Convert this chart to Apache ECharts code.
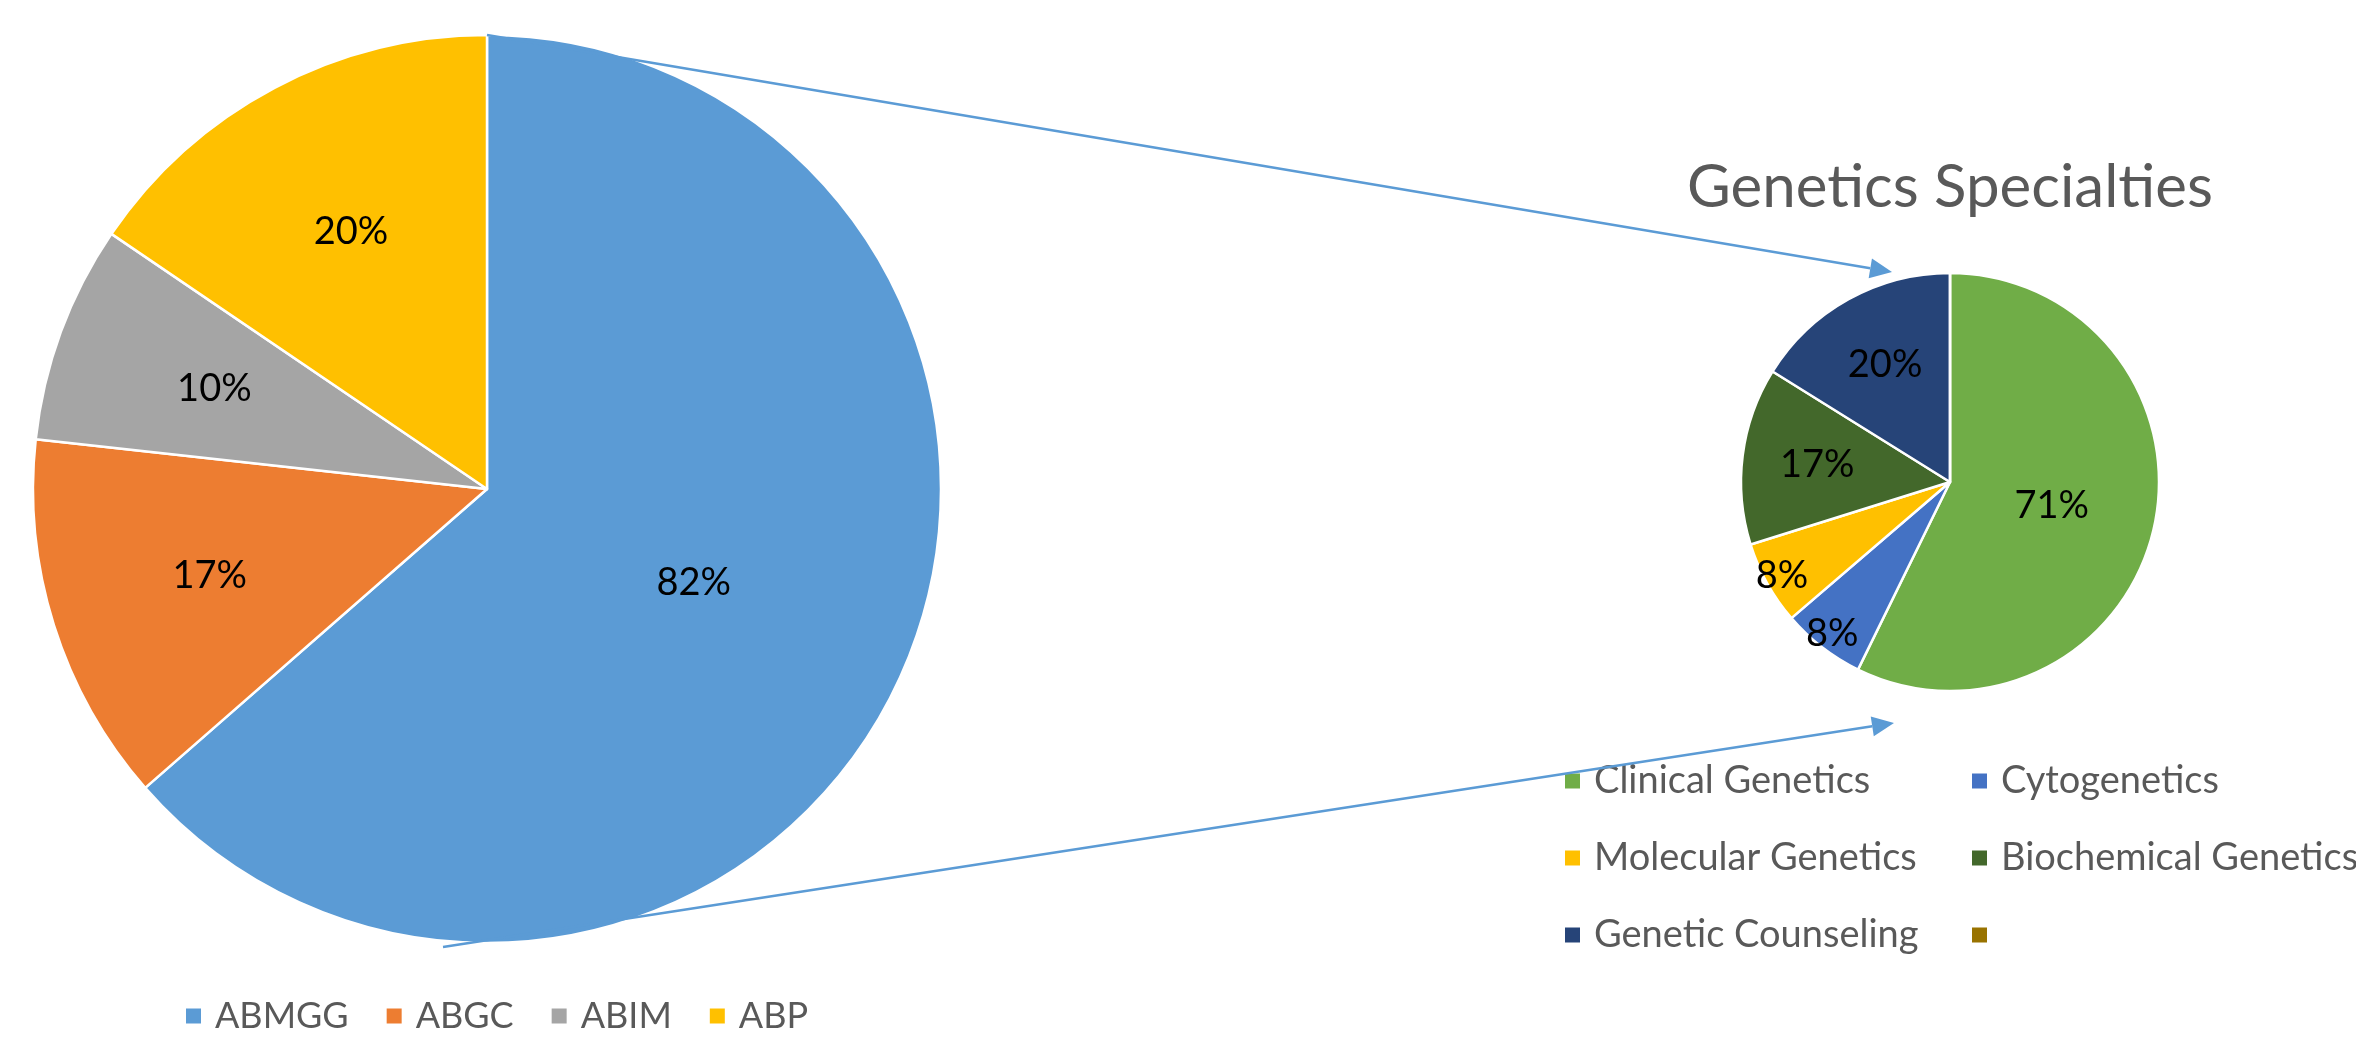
<!DOCTYPE html>
<html>
<head>
<meta charset="utf-8">
<script src="https://cdn.jsdelivr.net/npm/echarts@6/dist/echarts.min.js"></script>
<style>
  html, body { margin: 0; padding: 0; background: #ffffff; }
  #chart { width: 2356px; height: 1041px; }
</style>
</head>
<body>
<div id="chart"></div>
<script>
// Board certifications (left pie)
const boardNames = ['ABMGG', 'ABGC', 'ABIM', 'ABP'];
const boardValues = [82, 17, 10, 20];

// Genetics specialties (right pie); the last legend entry carries no label
const specialtyNames = ['Clinical Genetics', 'Cytogenetics', 'Molecular Genetics', 'Biochemical Genetics', 'Genetic Counseling', ' '];
const specialtyValues = [71, 8, 8, 17, 20, 0];

const specialtyTitle = 'Genetics Specialties';

// Palettes
const boardColors = ['#5B9BD5', '#ED7D31', '#A5A5A5', '#FFC000'];
const specialtyColors = ['#70AD47', '#4472C4', '#FFC000', '#43682B', '#264478', '#997300'];

// Geometry of the two pies (pixels)
const LEFT_PIE = { cx: 487, cy: 489, r: 454 };
const RIGHT_PIE = { cx: 1950, cy: 482, r: 209 };

const FONT = 'Lato, "Open Sans", sans-serif';
const TEXT_GREY = '#595959';
const ARROW_BLUE = '#5B9BD5';

// Label anchor for each slice: big slices near the middle, tiny slices near the rim
function labelAnchors(values, pie) {
  const total = values.reduce((a, b) => a + b, 0);
  let start = 0;
  return values.map(v => {
    const a = v / total * Math.PI * 2;
    const mid = start + a / 2;
    start += a;
    const deg = a * 180 / Math.PI;
    const frac = deg > 180 ? 0.5 : (deg < 25 ? 0.92 : 0.64);
    return [pie.cx + frac * pie.r * Math.sin(mid), pie.cy - frac * pie.r * Math.cos(mid)];
  });
}

function pieSeries(names, values, colors, pie) {
  const anchors = labelAnchors(values, pie);
  return {
    type: 'pie',
    center: [pie.cx, pie.cy],
    radius: [0, pie.r],
    startAngle: 90,
    clockwise: true,
    silent: true,
    animation: false,
    data: names.map((n, i) => ({ name: n, value: values[i], itemStyle: { color: colors[i] } })),
    itemStyle: { borderColor: '#ffffff', borderWidth: 2.5 },
    label: {
      show: true,
      position: 'inside',
      formatter: p => (p.value ? p.value + '%' : ''),
      color: '#000000',
      fontFamily: FONT,
      fontSize: 38
    },
    labelLine: { show: false },
    labelLayout: p => ({
      x: anchors[p.dataIndex][0],
      y: anchors[p.dataIndex][1],
      align: 'center',
      verticalAlign: 'middle'
    }),
    emphasis: { disabled: true }
  };
}

// Connector arrows from the large pie to the breakdown pie
const arrows = [
  { from: [LEFT_PIE.cx, LEFT_PIE.cy - LEFT_PIE.r], to: [1892, 272] },
  { from: [443, 947], to: [1894, 723] }
];

function arrowGraphics(a) {
  const [x1, y1] = a.from, [x2, y2] = a.to;
  const len = Math.hypot(x2 - x1, y2 - y1);
  const ux = (x2 - x1) / len, uy = (y2 - y1) / len;
  const nx = -uy, ny = ux;
  const headLen = 22, headHalf = 10;
  const bx = x2 - ux * headLen, by = y2 - uy * headLen;
  return [
    {
      type: 'line', z: 20, silent: true,
      shape: { x1: x1, y1: y1, x2: bx, y2: by },
      style: { stroke: ARROW_BLUE, lineWidth: 2.5 }
    },
    {
      type: 'polygon', z: 20, silent: true,
      shape: { points: [[x2, y2], [bx + nx * headHalf, by + ny * headHalf], [bx - nx * headHalf, by - ny * headHalf]] },
      style: { fill: ARROW_BLUE }
    }
  ];
}

function legendText(size) {
  return {
    fontFamily: FONT,
    fontSize: size,
    lineHeight: 40,
    color: TEXT_GREY,
    padding: [0, 0, 0, 8]
  };
}

const legendBase = {
  icon: 'rect',
  itemWidth: 17,
  itemHeight: 17,
  padding: 0,
  selectedMode: false
};

const chart = echarts.init(document.getElementById('chart'));
chart.setOption({
  backgroundColor: '#ffffff',
  animation: false,
  legend: [
    Object.assign({}, legendBase, {
      data: boardNames,
      orient: 'horizontal',
      left: 184,
      top: 996,
      itemGap: 36,
      textStyle: legendText(36)
    }),
    Object.assign({}, legendBase, {
      data: [specialtyNames[0], specialtyNames[2], specialtyNames[4]],
      orient: 'vertical',
      left: 1563,
      top: 761,
      itemGap: 37,
      textStyle: legendText(38)
    }),
    Object.assign({}, legendBase, {
      data: [specialtyNames[1], specialtyNames[3], specialtyNames[5]],
      orient: 'vertical',
      left: 1970,
      top: 761,
      itemGap: 37,
      textStyle: legendText(38)
    })
  ],
  graphic: [
    {
      type: 'text',
      x: RIGHT_PIE.cx,
      y: 188,
      silent: true,
      style: {
        text: specialtyTitle,
        fontFamily: FONT,
        fontSize: 60,
        fill: TEXT_GREY,
        align: 'center',
        verticalAlign: 'middle'
      }
    }
  ].concat(arrowGraphics(arrows[0]), arrowGraphics(arrows[1])),
  series: [
    pieSeries(boardNames, boardValues, boardColors, LEFT_PIE),
    pieSeries(specialtyNames, specialtyValues, specialtyColors, RIGHT_PIE)
  ]
});
</script>
</body>
</html>
